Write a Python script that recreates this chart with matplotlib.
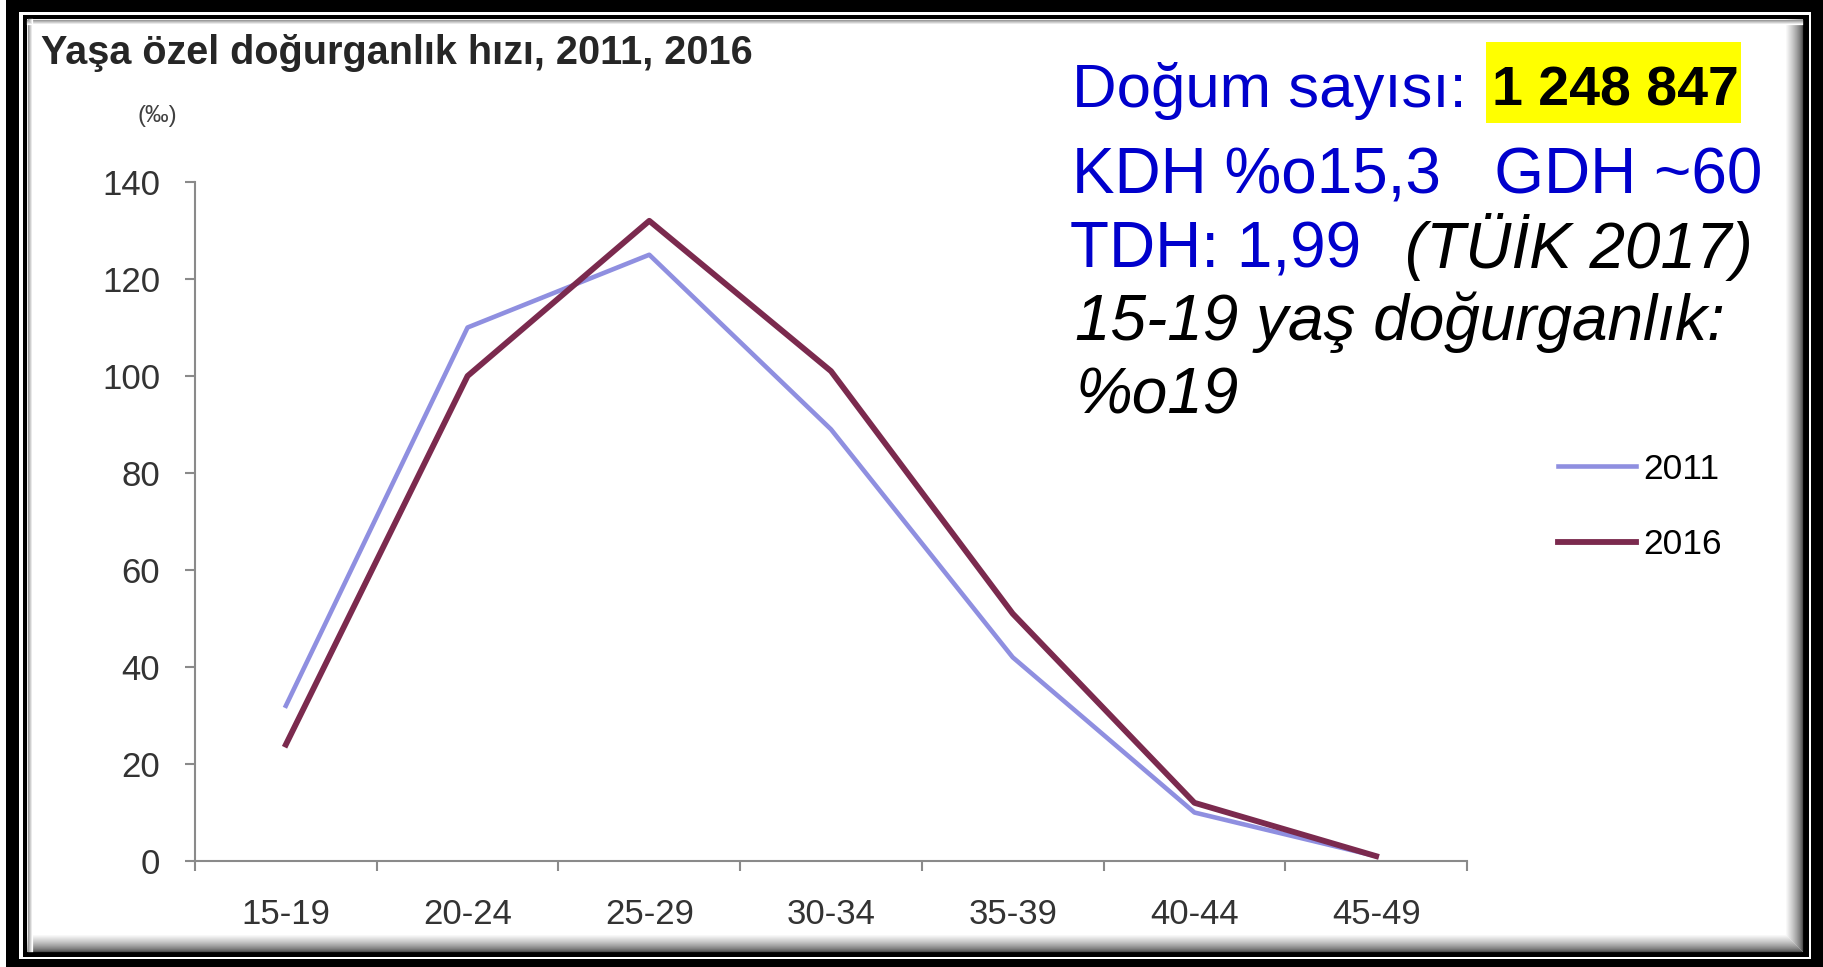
import matplotlib.pyplot as plt
from matplotlib.patches import Rectangle

# age-specific fertility rate (per mille), TÜİK
age_groups = ['15-19', '20-24', '25-29', '30-34', '35-39', '40-44', '45-49']
rate_2011 = [32, 110, 125, 89, 42, 10, 1]
rate_2016 = [24, 100, 132, 101, 51, 12, 1]
y_ticks = [0, 20, 40, 60, 80, 100, 120, 140]

W, H = 1823, 967
fig = plt.figure(figsize=(W / 100, H / 100), dpi=100)
plt.rcParams['font.family'] = ['Liberation Sans', 'DejaVu Sans']

# background layer in pixel coords: double frame, shadow and the text block
bg = fig.add_axes([0, 0, 1, 1], zorder=0)
bg.set_xlim(0, W)
bg.set_ylim(H, 0)
bg.axis('off')
bg.add_patch(Rectangle((6, 0), W - 6, H, fc='black', lw=0))
bg.add_patch(Rectangle((19, 12), 1811 - 19, 959 - 12, fc='white', lw=0))
bg.add_patch(Rectangle((23, 15), 1809 - 23, 957 - 15, fc='black', lw=0))
bg.add_patch(Rectangle((27, 19), 1803 - 27, 952 - 19, fc='white', lw=0))
for i in range(18):
    g = 0.3 + 0.7 * (i / 17) ** 0.7
    bg.plot([1802 - i, 1802 - i], [19, 951 - i], color=str(g), lw=0.9, solid_capstyle='butt')
    bg.plot([27, 1802 - i], [951 - i, 951 - i], color=str(g), lw=0.9, solid_capstyle='butt')
for i in range(5):
    g = 0.6 + 0.4 * i / 4
    bg.plot([28 + i, 28 + i], [19, 951], color=str(g), lw=0.9)
    bg.plot([27, 1802], [20 + i, 20 + i], color=str(g), lw=0.9)

blue = '#0000CC'
bg.text(41, 64, 'Yaşa özel doğurganlık hızı, 2011, 2016', fontsize=28.5,
        fontweight='bold', color='#262626', va='baseline')
bg.text(157, 116, '(‰)', fontsize=17, color='#404040', ha='center', va='center')

bg.add_patch(Rectangle((1486, 42), 255, 81, fc='#FFFF00', lw=0))
bg.text(1072, 107, 'Doğum sayısı:', fontsize=44.5, color=blue, va='baseline')
bg.text(1492, 105, '1 248 847', fontsize=40, fontweight='bold', color='black', va='baseline')
bg.text(1072, 194, 'KDH %o15,3   GDH ~60', fontsize=46, color=blue, va='baseline')
bg.text(1070, 268, 'TDH: 1,99', fontsize=46, color=blue, va='baseline')
bg.text(1405, 268, '(TÜİK 2017)', fontsize=46, style='italic', color='black', va='baseline')
bg.text(1075, 340, '15-19 yaş doğurganlık:', fontsize=46, style='italic', color='black', va='baseline')
bg.text(1075, 414, '%o19', fontsize=46, style='italic', color='black', va='baseline')

# chart
ax = fig.add_axes([195 / W, 1 - 861 / H, 1272 / W, 679 / H], zorder=2)
ax.set_facecolor('none')
x = list(range(len(age_groups)))
ax.plot(x, rate_2011, color='#8F8FE0', lw=3.3, label='2011', clip_on=False)
ax.plot(x, rate_2016, color='#7B2A4E', lw=4.2, label='2016', clip_on=False)

ax.set_xlim(-0.5, len(age_groups) - 0.5)
ax.set_ylim(0, 140)
ax.set_yticks(y_ticks)
ax.set_xticks([i - 0.5 for i in range(len(age_groups) + 1)])
ax.set_xticklabels([])
ax.set_xticks(x, minor=True)
ax.set_xticklabels(age_groups, minor=True)

grey = '#8A8A8A'
for s in ['top', 'right']:
    ax.spines[s].set_visible(False)
for s in ['left', 'bottom']:
    ax.spines[s].set_color(grey)
    ax.spines[s].set_linewidth(1.5)
ax.tick_params(axis='y', length=7, width=1.5, color=grey, pad=18,
               labelsize=25, labelcolor='#333333')
ax.tick_params(axis='x', which='major', length=7, width=1.5, color=grey)
ax.tick_params(axis='x', which='minor', length=0, pad=27,
               labelsize=25, labelcolor='#333333')

ax.legend(loc='center left', bbox_to_anchor=(1558 / W, 1 - 507 / H),
          bbox_transform=fig.transFigure, frameon=False, fontsize=25.5,
          handlelength=2.2, handletextpad=0.2, labelspacing=1.2,
          borderpad=0, borderaxespad=0)

fig.savefig('out.png', dpi=100)
